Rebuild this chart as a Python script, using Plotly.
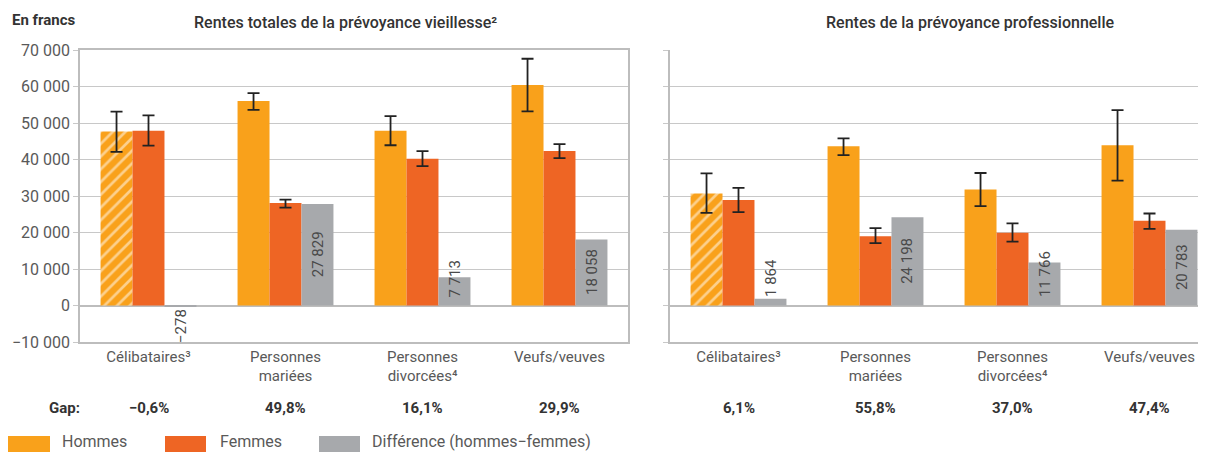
import plotly.graph_objects as go

# categories (x ticks)
categories = ["Célibataires³", "Personnes<br>mariées", "Personnes<br>divorcées⁴", "Veufs/veuves"]

# Rentes totales de la prévoyance vieillesse
hommes_tot = [47700, 56000, 47900, 60400]
hommes_tot_hi = [53100, 58200, 51900, 67600]
hommes_tot_lo = [42100, 53600, 43900, 53200]
femmes_tot = [47900, 28100, 40200, 42300]
femmes_tot_hi = [52100, 29000, 42300, 44200]
femmes_tot_lo = [43800, 26800, 38200, 40400]
diff_tot = [-278, 27829, 7713, 18058]
gap_tot = ["−0,6%", "49,8%", "16,1%", "29,9%"]

# Rentes de la prévoyance professionnelle
hommes_pro = [30700, 43600, 31800, 43900]
hommes_pro_hi = [36200, 45800, 36300, 53500]
hommes_pro_lo = [25400, 41200, 27200, 34200]
femmes_pro = [28900, 19000, 19900, 23200]
femmes_pro_hi = [32200, 21200, 22500, 25200]
femmes_pro_lo = [25600, 17100, 17500, 21000]
diff_pro = [1864, 24198, 11766, 20783]
gap_pro = ["6,1%", "55,8%", "37,0%", "47,4%"]

y_ticks = [-10000, 0, 10000, 20000, 30000, 40000, 50000, 60000, 70000]

ORANGE = "#F9A11B"
RED = "#EE6524"
GREY = "#A7A9AC"
TXT = "#595959"
FONT = "Roboto"

# the page body adds an 8px margin, so the figure is drawn 8px in
OFF = 8
W, H = 1206 - OFF, 452 - OFF
PLOT_TOP, PLOT_H = 50 - OFF, 292
hatch = ["/", "", "", ""]


def fx(px):
    # reference pixel column -> paper x
    return (px - OFF) / W


def py(px):
    # reference pixel row -> paper y
    return (PLOT_TOP + PLOT_H - (px - OFF)) / PLOT_H


def fmt(v):
    s = f"{abs(v):,}".replace(",", " ")
    return ("−" + s) if v < 0 else s


def add_panel(fig, xa, ya, hom, hom_hi, hom_lo, fem, fem_hi, fem_lo, diff):
    fig.add_trace(go.Bar(
        x=categories, y=hom, xaxis=xa, yaxis=ya, name="Hommes",
        marker=dict(color=ORANGE, line=dict(width=0),
                    pattern=dict(shape=hatch, fgcolor="white", bgcolor=ORANGE,
                                 fillmode="overlay", size=9, solidity=0.3)),
        error_y=dict(type="data", symmetric=False,
                     array=[h - v for h, v in zip(hom_hi, hom)],
                     arrayminus=[v - l for v, l in zip(hom, hom_lo)],
                     color="#222222", thickness=1.8, width=6),
        showlegend=False))
    fig.add_trace(go.Bar(
        x=categories, y=fem, xaxis=xa, yaxis=ya, name="Femmes",
        marker=dict(color=RED, line=dict(width=0)),
        error_y=dict(type="data", symmetric=False,
                     array=[h - v for h, v in zip(fem_hi, fem)],
                     arrayminus=[v - l for v, l in zip(fem, fem_lo)],
                     color="#222222", thickness=1.8, width=6),
        showlegend=False))
    fig.add_trace(go.Bar(
        x=categories, y=diff, xaxis=xa, yaxis=ya, name="Différence",
        marker=dict(color=GREY, line=dict(width=0)),
        showlegend=False))
    # value labels on the grey bars
    px_per_unit = PLOT_H / 80000
    for c, v in zip(categories, diff):
        s = fmt(v)
        txt_len = 7.6 * len(s)
        if abs(v) * px_per_unit > txt_len + 6:
            y, ya_, ys = v / 2, "middle", 0
        elif v >= 0:
            y, ya_, ys = 0, "bottom", 6
        else:
            y, ya_, ys = 0, "top", -2
        fig.add_annotation(x=c, y=y, xref=xa, yref=ya, text=s, textangle=-90,
                           showarrow=False, xshift=32, yshift=ys, yanchor=ya_,
                           font=dict(family=FONT, size=15, color="#4a4a4a"))


fig = go.Figure()
add_panel(fig, "x", "y", hommes_tot, hommes_tot_hi, hommes_tot_lo,
          femmes_tot, femmes_tot_hi, femmes_tot_lo, diff_tot)
add_panel(fig, "x2", "y2", hommes_pro, hommes_pro_hi, hommes_pro_lo,
          femmes_pro, femmes_pro_hi, femmes_pro_lo, diff_pro)

axis_common = dict(type="category", showgrid=False, ticks="", showline=True,
                   linecolor="#bdbdbd", linewidth=1.5,
                   tickfont=dict(family=FONT, size=15, color=TXT))
yaxis_common = dict(range=[-10000, 70000], tickvals=y_ticks, tickformat=",d",
                    gridcolor="#c8c8c8", gridwidth=1.3, zeroline=True,
                    zerolinecolor="#bdbdbd", zerolinewidth=1.5,
                    showline=True, linecolor="#bdbdbd", linewidth=1.5,
                    ticks="outside", ticklen=5, tickcolor="#c8c8c8",
                    tickfont=dict(family=FONT, size=16, color=TXT))

# right panel is cut off by the picture edge
right_end = -0.5 + (1206 - 670) / 137

fig.update_layout(
    width=W, height=H,
    margin=dict(l=0, r=0, t=PLOT_TOP, b=H - PLOT_TOP - PLOT_H),
    paper_bgcolor="white", plot_bgcolor="white",
    barmode="group", bargap=0.3, bargroupgap=0,
    separators=", ",
    font=dict(family=FONT, color=TXT),
    xaxis=dict(domain=[fx(80), fx(628)], anchor="y", range=[-0.5, 3.5], mirror=True, **axis_common),
    yaxis=dict(anchor="x", mirror=True, automargin=False, **yaxis_common),
    xaxis2=dict(domain=[fx(670), 1], anchor="y2", range=[-0.5, right_end], **axis_common),
    yaxis2=dict(anchor="x2", showticklabels=False, **yaxis_common),
)

# titles
fig.add_annotation(x=fx(10), y=py(20), xref="paper", yref="paper", text="<b>En francs</b>",
                   showarrow=False, xanchor="left", yanchor="middle",
                   font=dict(family=FONT, size=15, color="#333333"))
fig.add_annotation(x=fx(345), y=py(22), xref="paper", yref="paper",
                   text="Rentes totales de la prévoyance vieillesse²",
                   showarrow=False, xanchor="center", yanchor="middle",
                   font=dict(family=FONT, size=16, color="#333333", weight=500))
fig.add_annotation(x=fx(970), y=py(22), xref="paper", yref="paper",
                   text="Rentes de la prévoyance professionnelle",
                   showarrow=False, xanchor="center", yanchor="middle",
                   font=dict(family=FONT, size=16, color="#333333", weight=500))

# gap row
fig.add_annotation(x=fx(64), y=py(408), xref="paper", yref="paper", text="<b>Gap:</b>",
                   showarrow=False, xanchor="center", yanchor="middle",
                   font=dict(family=FONT, size=15, color="#333333"))
for xa, gaps in (("x", gap_tot), ("x2", gap_pro)):
    for c, g in zip(categories, gaps):
        fig.add_annotation(x=c, y=py(408), xref=xa, yref="paper", text=f"<b>{g}</b>",
                           showarrow=False, xanchor="center", yanchor="middle",
                           font=dict(family=FONT, size=15, color="#333333"))

# legend drawn by hand (swatches cut off at the bottom edge)
legend_items = [("Hommes", ORANGE, 8, 50, 60), ("Femmes", RED, 165, 206, 218),
                ("Différence (hommes−femmes)", GREY, 319, 360, 370)]
for label, col, x0, x1, tx in legend_items:
    fig.add_shape(type="rect", xref="paper", yref="paper", x0=fx(x0), x1=fx(x1),
                  y0=py(436), y1=py(470), fillcolor=col, line=dict(width=0))
    fig.add_annotation(x=fx(tx), y=py(441), xref="paper", yref="paper", text=label,
                       showarrow=False, xanchor="left", yanchor="middle",
                       font=dict(family=FONT, size=16, color=TXT))

fig.write_html("out.html")
